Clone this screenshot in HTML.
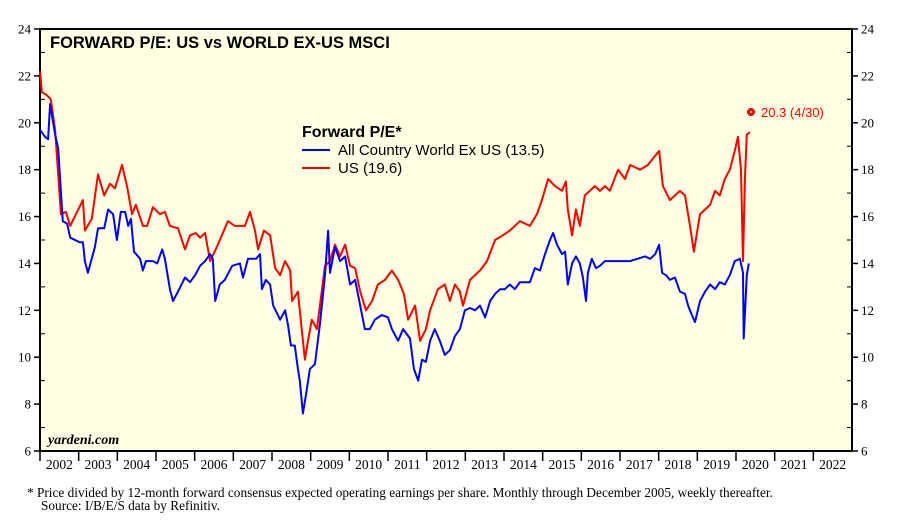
<!DOCTYPE html>
<html><head><meta charset="utf-8"><style>
body{margin:0;background:#fff;}
svg text{font-family:"Liberation Sans",sans-serif;}
.ser{font-family:"Liberation Serif",serif;}
</style></head><body>
<svg id="chart" width="897" height="525" xmlns="http://www.w3.org/2000/svg">
<rect x="40" y="29" width="812" height="422" fill="#ffffe3" stroke="#000" stroke-width="2"/>
<g id="axes"></g>
<g id="series"></g>
<text x="50" y="48" font-size="16.5" font-weight="bold">FORWARD P/E: US vs WORLD EX-US MSCI</text>
<text x="302" y="137" font-size="16" font-weight="bold">Forward P/E*</text>
<line x1="302" y1="150" x2="330" y2="150" stroke="#0000ff" stroke-width="2"/>
<text x="338" y="155" font-size="15">All Country World Ex US (13.5)</text>
<line x1="302" y1="168" x2="330" y2="168" stroke="#ff0000" stroke-width="2"/>
<text x="338" y="173" font-size="15">US (19.6)</text>
<circle cx="751" cy="112" r="3.5" fill="#ff0000" stroke="#e00" stroke-width="1"/>
<circle cx="751" cy="112" r="1" fill="#fff"/>
<text x="761" y="117" font-size="13" fill="#ff0000">20.3 (4/30)</text>
<text class="ser" x="48" y="444" font-size="14" font-weight="bold" font-style="italic">yardeni.com</text>
<text class="ser" x="27" y="497" font-size="13.3">*  Price divided by 12-month forward consensus expected operating earnings per share. Monthly through December 2005, weekly thereafter.</text>
<text class="ser" x="41" y="510" font-size="13.3">Source: I/B/E/S data by Refinitiv.</text>
</svg>
<script>
const yTicks=[6,8,10,12,14,16,18,20,22,24];
const years=[2002,2003,2004,2005,2006,2007,2008,2009,2010,2011,2012,2013,2014,2015,2016,2017,2018,2019,2020,2021,2022];
const usDates=[2002.00,2002.05,2002.16,2002.28,2002.39,2002.54,2002.67,2002.78,2003.11,2003.16,2003.34,2003.50,2003.66,2003.81,2003.94,2004.12,2004.25,2004.38,2004.48,2004.66,2004.77,2004.92,2005.10,2005.23,2005.36,2005.57,2005.75,2005.88,2006.03,2006.14,2006.27,2006.40,2006.60,2006.86,2007.04,2007.30,2007.43,2007.56,2007.64,2007.79,2007.95,2008.08,2008.21,2008.34,2008.47,2008.52,2008.67,2008.78,2008.85,2008.93,2009.03,2009.16,2009.24,2009.37,2009.50,2009.63,2009.76,2009.89,2010.02,2010.15,2010.28,2010.43,2010.59,2010.74,2010.92,2011.10,2011.26,2011.41,2011.52,2011.70,2011.83,2011.98,2012.09,2012.29,2012.47,2012.60,2012.73,2012.86,2012.94,2013.12,2013.38,2013.56,2013.77,2013.97,2014.15,2014.41,2014.67,2014.85,2014.98,2015.14,2015.32,2015.50,2015.60,2015.65,2015.76,2015.86,2015.96,2016.09,2016.22,2016.35,2016.48,2016.61,2016.74,2016.95,2017.13,2017.26,2017.52,2017.72,2018.01,2018.11,2018.29,2018.42,2018.55,2018.68,2018.81,2018.91,2019.07,2019.20,2019.33,2019.46,2019.58,2019.71,2019.84,2019.97,2020.05,2020.13,2020.18,2020.23,2020.28,2020.36];
const usValues=[22.2,21.3,21.2,21.0,19.7,16.1,16.2,15.6,16.7,15.4,15.9,17.8,16.9,17.4,17.2,18.2,17.3,16.1,16.5,15.6,15.6,16.4,16.1,16.2,15.6,15.5,14.6,15.2,15.3,15.1,15.3,14.1,14.8,15.8,15.6,15.6,16.2,15.4,14.6,15.4,15.2,13.8,13.5,14.1,13.7,12.4,12.8,11.0,9.9,10.7,11.6,11.2,12.2,13.9,14.1,14.8,14.3,14.8,13.9,13.8,12.8,12.0,12.4,13.1,13.3,13.7,13.3,12.7,11.6,12.2,10.7,11.2,12.0,12.9,13.1,12.4,13.1,12.8,12.2,13.3,13.7,14.1,15.0,15.2,15.4,15.8,15.6,16.1,16.7,17.6,17.3,17.1,17.5,16.3,15.2,16.3,15.6,16.9,17.1,17.3,17.1,17.3,17.1,18.0,17.6,18.2,18.0,18.2,18.8,17.3,16.7,16.9,17.1,16.9,15.6,14.5,16.1,16.3,16.5,17.1,16.9,17.6,18.0,18.8,19.4,18.0,14.1,17.6,19.5,19.6];
const wDates=[2002.00,2002.13,2002.21,2002.26,2002.39,2002.47,2002.59,2002.70,2002.78,2003.03,2003.11,2003.16,2003.24,2003.42,2003.50,2003.66,2003.76,2003.89,2003.99,2004.09,2004.20,2004.28,2004.35,2004.43,2004.59,2004.66,2004.74,2004.92,2005.03,2005.16,2005.23,2005.36,2005.44,2005.57,2005.75,2005.88,2006.01,2006.14,2006.27,2006.40,2006.47,2006.53,2006.65,2006.78,2006.97,2007.17,2007.25,2007.38,2007.59,2007.69,2007.74,2007.84,2007.95,2008.03,2008.21,2008.34,2008.41,2008.49,2008.59,2008.67,2008.72,2008.80,2008.88,2008.98,2009.11,2009.24,2009.37,2009.45,2009.50,2009.63,2009.76,2009.89,2010.02,2010.15,2010.28,2010.40,2010.53,2010.66,2010.84,2011.00,2011.10,2011.26,2011.39,2011.57,2011.67,2011.78,2011.88,2011.98,2012.09,2012.21,2012.34,2012.47,2012.60,2012.73,2012.86,2012.99,2013.12,2013.25,2013.38,2013.51,2013.64,2013.77,2013.90,2014.02,2014.15,2014.28,2014.41,2014.67,2014.80,2014.93,2015.06,2015.19,2015.27,2015.37,2015.50,2015.58,2015.65,2015.76,2015.86,2015.96,2016.04,2016.12,2016.17,2016.27,2016.38,2016.48,2016.61,2016.74,2017.00,2017.26,2017.65,2017.78,2017.91,2018.01,2018.09,2018.19,2018.29,2018.42,2018.55,2018.68,2018.76,2018.86,2018.94,2019.07,2019.20,2019.33,2019.46,2019.58,2019.71,2019.84,2019.97,2020.10,2020.18,2020.20,2020.28,2020.33];
const wValues=[19.7,19.4,19.3,20.8,19.5,18.9,15.8,15.7,15.1,14.9,14.9,14.1,13.6,14.7,15.5,15.5,16.3,16.1,15.0,16.2,16.2,15.6,15.9,14.5,14.2,13.7,14.1,14.1,14.0,14.6,14.2,12.9,12.4,12.8,13.4,13.2,13.5,13.9,14.1,14.4,14.2,12.4,13.1,13.3,13.9,14.0,13.4,14.2,14.2,14.4,12.9,13.3,13.1,12.2,11.6,12.0,11.4,10.5,10.5,9.5,9.0,7.6,8.4,9.5,9.7,11.4,13.5,15.4,13.6,14.7,14.1,14.3,13.1,13.3,12.2,11.2,11.2,11.6,11.8,11.7,11.2,10.7,11.2,10.8,9.5,9.0,9.9,9.8,10.7,11.2,10.7,10.1,10.3,10.9,11.2,12.0,12.1,12.0,12.2,11.7,12.4,12.7,12.9,12.9,13.1,12.9,13.2,13.2,13.8,13.7,14.4,15.0,15.3,14.8,14.4,14.5,13.1,14.0,14.3,14.0,13.4,12.4,13.6,14.2,13.8,13.9,14.1,14.1,14.1,14.1,14.3,14.2,14.4,14.8,13.6,13.5,13.3,13.4,12.8,12.7,12.2,11.8,11.5,12.4,12.8,13.1,12.9,13.2,13.1,13.5,14.1,14.2,13.6,10.8,13.5,14.0];

const NS="http://www.w3.org/2000/svg";
const L=40,R=852,T=29,B=451;
const xS=t=>L+(t-2002)/21*(R-L);
const yS=v=>B-(v-6)/18*(B-T);
const axes=document.getElementById('axes');
const series=document.getElementById('series');
function mk(tag,attrs,parent){const e=document.createElementNS(NS,tag);for(const k in attrs)e.setAttribute(k,attrs[k]);parent.appendChild(e);return e;}
yTicks.forEach(v=>{
  const y=yS(v);
  const tl=mk('line',{x1:L-6,x2:L,y1:y,y2:y,stroke:'#000','stroke-width':1.5},axes);
  
  
  const tr=mk('line',{x1:R,x2:R+6,y1:y,y2:y,stroke:'#000','stroke-width':1.5},axes);
  
  
  const a=mk('text',{x:L-9,y:y+4.5,'text-anchor':'end','font-size':13,class:'ser'},axes);
  a.textContent=v;
  
  
  const b=mk('text',{x:R+9,y:y+4.5,'font-size':13,class:'ser'},axes);
  b.textContent=v;
  
  
  if(v<24){const ym=yS(v+1);
    const m1=mk('line',{x1:L,x2:L+5,y1:ym,y2:ym,stroke:'#000','stroke-width':1},axes);
    
    
    const m2=mk('line',{x1:R-5,x2:R,y1:ym,y2:ym,stroke:'#000','stroke-width':1},axes);
    
    }
});
years.forEach(yr=>{
  const x=xS(yr);
  const t=mk('line',{x1:x,x2:x,y1:B,y2:B+10,stroke:'#000','stroke-width':1.5},axes);
  
  
  const lb=mk('text',{x:xS(yr+0.5),y:B+18,'text-anchor':'middle','font-size':13.5,class:'ser'},axes);
  lb.textContent=yr;
  
  
});
function line(d,v,color,name){
  const p=mk('polyline',{points:d.map((t,i)=>xS(t).toFixed(1)+','+yS(v[i]).toFixed(1)).join(' '),fill:'none',stroke:color,'stroke-width':2,'stroke-linejoin':'round'},series);
  
  
}
line(usDates,usValues,'#ff0000','series-us');
line(wDates,wValues,'#0000ff','series-world-ex-us');
</script>
</body></html>
